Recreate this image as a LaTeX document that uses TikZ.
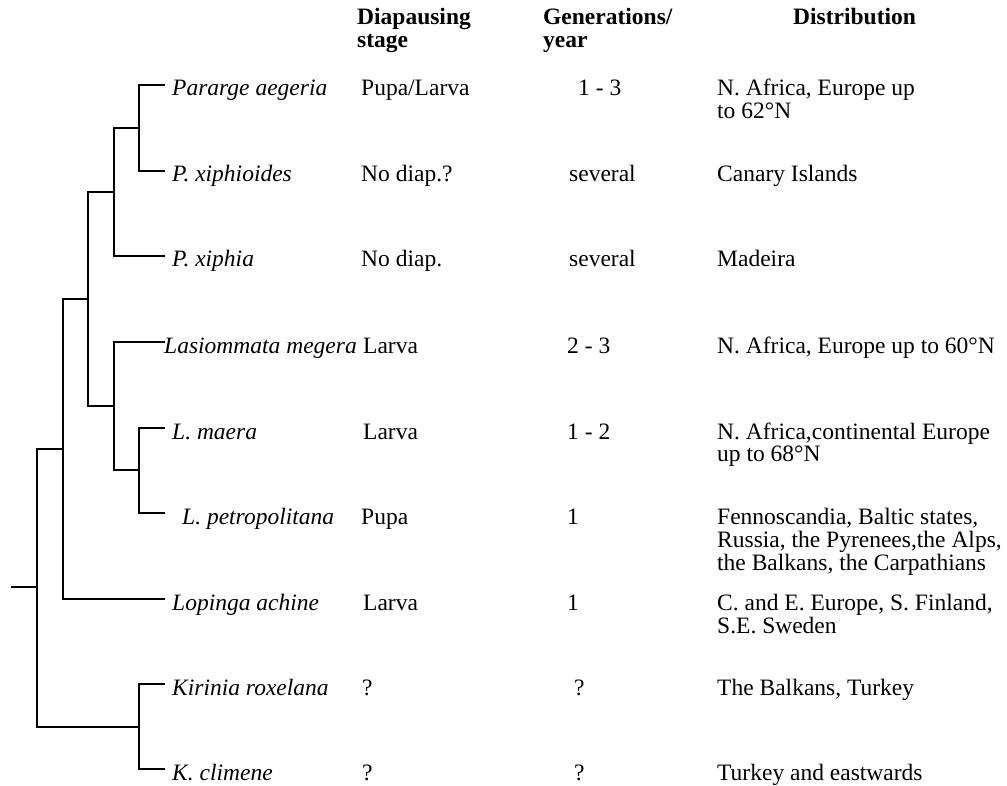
\documentclass[tikz,border=0pt]{standalone}
\usepackage{fontspec}
\setmainfont{Liberation Serif}
\begin{document}
\begin{tikzpicture}[x=1pt,y=-1pt,
  branch/.style={line width=1.3pt,line cap=rect},
  txt/.style={anchor=base west,inner sep=0pt,font=\fontsize{23.5}{22.5}\selectfont},
  sp/.style={txt,font=\fontsize{23.5}{22.5}\selectfont\itshape},
  hd/.style={anchor=base west,inner sep=0pt,font=\fontsize{23.5}{23}\selectfont\bfseries}]
\useasboundingbox (0,0) rectangle (1007,786);
% leaf tips
\coordinate (tA) at (164,85);
\coordinate (tB) at (164,171);
\coordinate (tC) at (164,256);
\coordinate (tD) at (164,342);
\coordinate (tE) at (164,428);
\coordinate (tF) at (164,513);
\coordinate (tG) at (164,599);
\coordinate (tH) at (164,684);
\coordinate (tI) at (164,769);
% internal nodes
\coordinate (nP1) at (139,128);
\coordinate (nP2) at (114,192);
\coordinate (nL1) at (139,470);
\coordinate (nL2) at (114,406);
\coordinate (nPL) at (88,299);
\coordinate (nA) at (63,449);
\coordinate (nK) at (139,727);
\coordinate (nR) at (37,587);
\coordinate (root) at (12,587);
% branches
\draw[branch] (nP1) |- (tA);
\draw[branch] (nP1) |- (tB);
\draw[branch] (nP2) |- (nP1);
\draw[branch] (nP2) |- (tC);
\draw[branch] (nL1) |- (tE);
\draw[branch] (nL1) |- (tF);
\draw[branch] (nL2) |- (tD);
\draw[branch] (nL2) |- (nL1);
\draw[branch] (nPL) |- (nP2);
\draw[branch] (nPL) |- (nL2);
\draw[branch] (nA) |- (nPL);
\draw[branch] (nA) |- (tG);
\draw[branch] (nK) |- (tH);
\draw[branch] (nK) |- (tI);
\draw[branch] (nR) |- (nA);
\draw[branch] (nR) |- (nK);
\draw[branch] (root) -- (nR);
% headers
\node[hd] (h1) at (357,25) {\begin{tabular}[t]{@{}l@{}}Diapausing\\stage\end{tabular}};
\node[hd] (h2) at (543,25) {\begin{tabular}[t]{@{}l@{}}Generations/\\year\end{tabular}};
\node[hd] (h3) at (793,25) {Distribution};
% species
\node[sp] (sA) at (172,96) {Pararge aegeria};
\node[sp] (sB) at (172,182) {P. xiphioides};
\node[sp] (sC) at (172,267) {P. xiphia};
\node[sp] (sD) at (164,353) {Lasiommata megera};
\node[sp] (sE) at (172,439) {L. maera};
\node[sp] (sF) at (182,524) {L. petropolitana};
\node[sp] (sG) at (172,610) {Lopinga achine};
\node[sp] (sH) at (172,695) {Kirinia roxelana};
\node[sp] (sI) at (172,780) {K. climene};
% diapausing stage
\node[txt] (dA) at (361,96) {Pupa/Larva};
\node[txt] (dB) at (361,182) {No diap.?};
\node[txt] (dC) at (361,267) {No diap.};
\node[txt] (dD) at (363,353) {Larva};
\node[txt] (dE) at (363,439) {Larva};
\node[txt] (dF) at (361,524) {Pupa};
\node[txt] (dG) at (363,610) {Larva};
\node[txt] (dH) at (362,695) {?};
\node[txt] (dI) at (362,780) {?};
% generations
\node[txt] (gA) at (578,96) {1 - 3};
\node[txt] (gB) at (569,182) {several};
\node[txt] (gC) at (569,267) {several};
\node[txt] (gD) at (567,353) {2 - 3};
\node[txt] (gE) at (567,439) {1 - 2};
\node[txt] (gF) at (567,524) {1};
\node[txt] (gG) at (567,610) {1};
\node[txt] (gH) at (574,695) {?};
\node[txt] (gI) at (574,780) {?};
% distribution
\node[txt] (rA) at (717,96) {\begin{tabular}[t]{@{}l@{}}N. Africa, Europe up\\to 62°N\end{tabular}};
\node[txt] (rB) at (717,182) {Canary Islands};
\node[txt] (rC) at (717,267) {Madeira};
\node[txt] (rD) at (717,353) {N. Africa, Europe up to 60°N};
\node[txt] (rE) at (717,439) {\begin{tabular}[t]{@{}l@{}}N. Africa,continental Europe\\up to 68°N\end{tabular}};
\node[txt] (rF) at (717,524) {\begin{tabular}[t]{@{}l@{}}Fennoscandia, Baltic states,\\Russia, the Pyrenees,the Alps,\\the Balkans, the Carpathians\end{tabular}};
\node[txt] (rG) at (717,610) {\begin{tabular}[t]{@{}l@{}}C. and E. Europe, S. Finland,\\S.E. Sweden\end{tabular}};
\node[txt] (rH) at (717,695) {The Balkans, Turkey};
\node[txt] (rI) at (717,780) {Turkey and eastwards};
\end{tikzpicture}
\end{document}
